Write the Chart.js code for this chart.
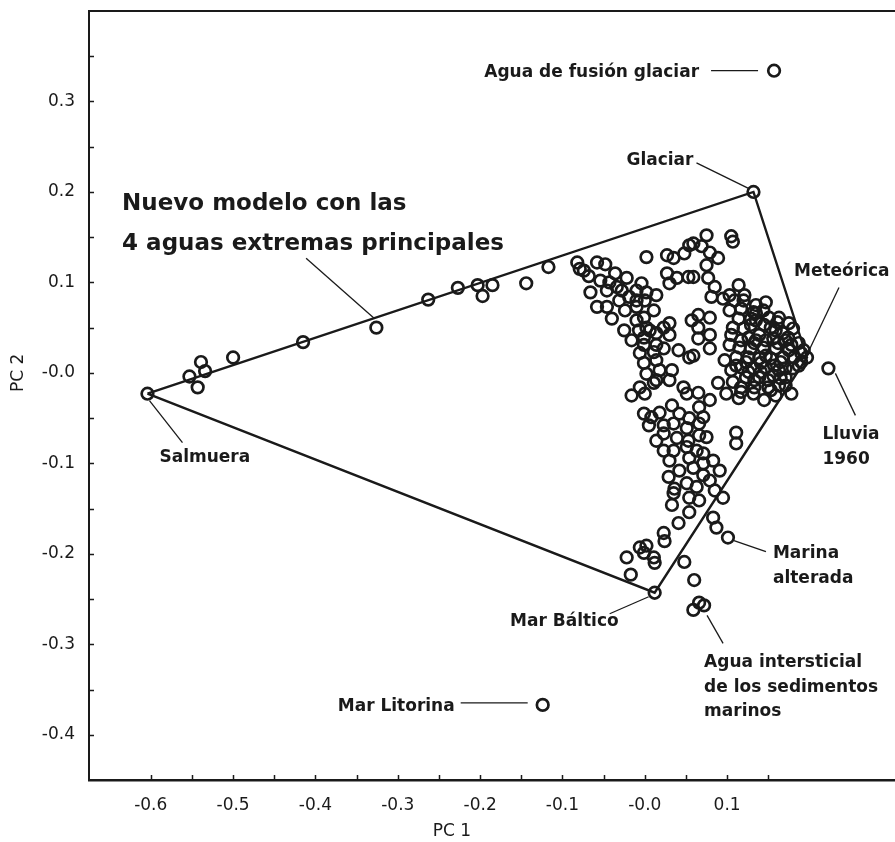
<!DOCTYPE html>
<html lang="es">
<head>
<meta charset="utf-8">
<title>PC 1 / PC 2 – modelo de mezcla</title>
<script src="https://cdn.jsdelivr.net/npm/chart.js@4.4.1/dist/chart.umd.min.js"></script>
<style>
  html, body { margin: 0; padding: 0; background: #ffffff; overflow: hidden; }
  #wrap { position: relative; width: 925px; height: 842px; }
  canvas { display: block; }
</style>
</head>
<body>
<div id="wrap"><canvas id="pca" width="925" height="842"></canvas></div>
<script>
// ---------------- data ----------------
const pc1TickValues = [-0.6, -0.5, -0.4, -0.3, -0.2, -0.1, 0, 0.1];
const pc1TickLabels = ['-0.6', '-0.5', '-0.4', '-0.3', '-0.2', '-0.1', '-0.0', '0.1'];
const pc2TickValues = [-0.4, -0.3, -0.2, -0.1, 0, 0.1, 0.2, 0.3];
const pc2TickLabels = ['-0.4', '-0.3', '-0.2', '-0.1', '-0.0', '0.1', '0.2', '0.3'];

// the four end-member waters of the mixing model
const endMemberNames = ['Salmuera', 'Glaciar', 'Meteórica', 'Mar Báltico'];
const endMemberPC1 = [-0.604, 0.132, 0.197, 0.012];
const endMemberPC2 = [-0.023, 0.200, 0.017, -0.243];

// outline of the model: Salmuera -> Glaciar -> Meteórica -> Mar Báltico -> Salmuera
const modelOutline = ['Salmuera', 'Glaciar', 'Meteórica', 'Mar Báltico', 'Salmuera'];

// reference waters outside the model
const referenceNames = ['Agua de fusión glaciar', 'Lluvia 1960', 'Mar Litorina'];
const referencePC1 = [0.157, 0.223, -0.124];
const referencePC2 = [0.334, 0.005, -0.367];

// groundwater samples [PC 1, PC 2]
const sampleScores = [
  // along the brine - glacial edge
  [-0.553,-0.004],[-0.539,0.012],[-0.534,0.002],[-0.543,-0.016],[-0.500,0.017],[-0.415,0.034],
  [-0.326,0.050],[-0.263,0.081],[-0.227,0.094],[-0.203,0.097],[-0.197,0.085],[-0.185,0.097],
  [-0.144,0.099],[-0.117,0.117],
  // upper left arm of the cloud
  [-0.082,0.122],[-0.058,0.122],[-0.048,0.120],[-0.074,0.113],[-0.068,0.107],[-0.054,0.102],
  [-0.036,0.110],[-0.022,0.105],[0.002,0.128],[0.027,0.130],[0.035,0.127],[0.048,0.132],
  [0.054,0.141],[0.027,0.110],[0.039,0.105],[0.053,0.106],[-0.066,0.089],[-0.046,0.091],
  [-0.028,0.091],[-0.058,0.073],[-0.046,0.073],[-0.031,0.080],[-0.019,0.084],[-0.010,0.091],
  [0.002,0.089],[0.014,0.086],[0.030,0.099],[-0.024,0.069],[-0.010,0.073],[0.000,0.080],
  [-0.001,0.061],[0.011,0.069],[-0.025,0.047],[-0.010,0.058],[-0.007,0.047],[0.006,0.047],
  [-0.001,0.039],[0.014,0.044],[0.030,0.055],[0.030,0.042],[0.057,0.058],[0.041,0.025],
  [0.054,0.017],[-0.006,0.022],[0.011,0.023],[0.023,0.027],[-0.001,0.011],[0.014,0.014],
  [0.002,-0.001],[0.018,0.003],[0.033,0.003],[0.030,-0.008],[0.014,-0.008],[-0.006,-0.016],
  [0.047,-0.016],[-0.079,0.115],[-0.043,0.100],[-0.034,0.095],[-0.010,0.080],[0.002,0.050],
  [0.023,0.050],[-0.001,0.031],[0.014,0.031],[-0.040,0.060],[-0.016,0.036],[-0.004,0.099],
  // central column and the dense meteoric core
  [0.075,0.152],[0.105,0.151],[0.107,0.145],[0.059,0.143],[0.069,0.140],[0.079,0.133],
  [0.089,0.127],[0.075,0.119],[0.059,0.106],[0.077,0.105],[0.114,0.097],[0.085,0.095],
  [0.081,0.084],[0.095,0.082],[0.109,0.080],[0.147,0.078],[0.103,0.069],[0.117,0.071],
  [0.132,0.067],[0.144,0.069],[0.163,0.061],[0.065,0.064],[0.079,0.061],[0.065,0.050],
  [0.079,0.042],[0.065,0.038],[0.079,0.027],[0.059,0.019],[0.107,0.050],[0.120,0.049],
  [0.135,0.058],[0.153,0.050],[0.168,0.044],[0.180,0.049],[0.126,0.039],[0.139,0.042],
  [0.156,0.038],[0.171,0.036],[0.187,0.033],[0.115,0.028],[0.129,0.027],[0.144,0.028],
  [0.159,0.027],[0.175,0.025],[0.190,0.022],[0.111,0.017],[0.126,0.017],[0.139,0.016],
  [0.153,0.016],[0.168,0.017],[0.181,0.017],[0.117,0.006],[0.132,0.005],[0.147,0.006],
  [0.163,0.003],[0.180,0.005],[0.123,-0.005],[0.139,-0.005],[0.156,-0.003],[0.171,-0.005],
  [0.089,-0.011],[0.107,-0.010],[0.133,-0.016],[0.150,-0.016],[0.163,-0.014],[0.099,-0.023],
  [0.114,-0.028],[0.132,-0.023],[0.145,-0.030],[0.159,-0.025],[0.178,-0.023],[0.051,-0.023],
  [0.103,0.086],[0.120,0.080],[0.135,0.066],[0.151,0.061],[0.175,0.055],[0.103,0.031],
  [0.097,0.014],[0.105,0.003],[0.135,0.036],[0.147,0.019],[0.165,0.012],[0.123,0.012],
  [0.190,0.012],[0.141,0.001],[0.171,-0.014],[0.117,-0.016],[0.193,0.025],[0.159,0.047],
  [0.129,0.053],
  [0.105,0.042],[0.117,0.036],[0.133,0.033],[0.147,0.036],[0.162,0.033],[0.178,0.031],
  [0.111,0.008],[0.126,0.001],[0.141,0.011],[0.157,0.008],[0.171,0.005],[0.187,0.008],
  [0.133,-0.008],[0.150,-0.008],[0.165,-0.006],[0.117,-0.021],[0.153,-0.019],[0.114,0.060],
  [0.129,0.060],[0.145,0.053],[0.161,0.056],[0.174,0.039],[0.121,0.086],[0.135,0.075],
  // lower stem towards the Baltic
  [-0.016,-0.025],[0.000,-0.023],[0.011,-0.011],[-0.001,-0.045],[0.008,-0.049],[0.018,-0.044],
  [0.033,-0.036],[0.042,-0.045],[0.054,-0.050],[0.066,-0.038],[0.005,-0.058],[0.023,-0.058],
  [0.035,-0.056],[0.051,-0.061],[0.066,-0.056],[0.023,-0.067],[0.039,-0.072],[0.053,-0.075],
  [0.066,-0.069],[0.023,-0.086],[0.035,-0.086],[0.051,-0.082],[0.063,-0.086],[0.030,-0.097],
  [0.054,-0.094],[0.071,-0.100],[0.029,-0.115],[0.042,-0.108],[0.059,-0.105],[0.071,-0.113],
  [0.051,-0.122],[0.063,-0.126],[0.079,-0.119],[0.035,-0.133],[0.033,-0.146],[0.054,-0.154],
  [0.041,-0.166],[0.065,-0.022],[0.014,-0.075],
  [-0.022,-0.204],[-0.017,-0.223],[-0.006,-0.193],[0.002,-0.191],[-0.001,-0.199],[0.011,-0.204],
  [0.012,-0.210],[0.023,-0.177],[0.024,-0.186],
  // outside the Baltic - meteoric edge
  [0.048,-0.209],[0.060,-0.229],[0.059,-0.262],[0.072,-0.257],[0.066,-0.254],
  [0.111,-0.066],[0.111,-0.078],[0.075,-0.071],[0.083,-0.097],[0.091,-0.108],[0.085,-0.130],
  [0.095,-0.138],[0.066,-0.141],[0.087,-0.171],[0.101,-0.182],[0.083,-0.160],[0.071,-0.089],
  [0.054,-0.138],[0.036,-0.128],[0.079,-0.030],[0.071,-0.049]
];

// ---------------- helpers ----------------
const INK = '#1a1a1a';

function endMember(name) {
  const i = endMemberNames.indexOf(name);
  return { x: endMemberPC1[i], y: endMemberPC2[i] };
}
function referenceWater(name) {
  const i = referenceNames.indexOf(name);
  return { x: referencePC1[i], y: referencePC2[i] };
}
function pointOnEdge(from, to, t) {
  const a = endMember(from), b = endMember(to);
  return { x: a.x + (b.x - a.x) * t, y: a.y + (b.y - a.y) * t };
}

// callouts: anchored on a data point, text and leader offsets in pixels
const callouts = [
  { anchor: () => referenceWater('Agua de fusión glaciar'), lines: ['Agua de fusión glaciar'],
    align: 'right', text: [-75, 6], leader: [[-16, 0], [-63, 0]] },
  { anchor: () => endMember('Glaciar'), lines: ['Glaciar'],
    align: 'right', text: [-60, -27], leader: [[-4, -3], [-57, -29]] },
  { anchor: () => endMember('Meteórica'), lines: ['Meteórica'],
    align: 'left', text: [-13, -82], leader: [[2, -7], [32, -70]] },
  { anchor: () => referenceWater('Lluvia 1960'), lines: ['Lluvia', '1960'],
    align: 'left', text: [-6, 71], gap: 25, leader: [[7, 5], [27, 47]] },
  { anchor: () => endMember('Salmuera'), lines: ['Salmuera'],
    align: 'left', text: [12, 68], leader: [[2, 7], [35, 49]] },
  { anchor: () => endMember('Mar Báltico'), lines: ['Mar Báltico'],
    align: 'right', text: [-36, 33], leader: [[-6, 4], [-45, 21]] },
  { anchor: () => ({ x: 0.101, y: -0.182 }), lines: ['Marina', 'alterada'],
    align: 'left', text: [45, 20], gap: 25, leader: [[6, 3], [38, 14]] },
  { anchor: () => ({ x: 0.072, y: -0.257 }), lines: ['Agua intersticial', 'de los sedimentos', 'marinos'],
    align: 'left', text: [0, 62], gap: 24.5, leader: [[3, 10], [19, 38]] },
  { anchor: () => referenceWater('Mar Litorina'), lines: ['Mar Litorina'],
    align: 'right', text: [-88, 6], leader: [[-15, -2], [-82, -2]] },
  { anchor: () => pointOnEdge('Salmuera', 'Glaciar', 0.374), lines: ['Nuevo modelo con las', '4 aguas extremas principales'],
    align: 'left', text: [-252, -108], gap: 40, size: 23, leader: [[0, 0], [-68, -60]] }
];

// frame, inward tick marks, axis titles and callouts
const decorations = {
  id: 'decorations',
  afterDraw(chart) {
    const { ctx, chartArea: a, scales: { x, y } } = chart;
    ctx.save();
    ctx.strokeStyle = INK;
    ctx.fillStyle = INK;
    ctx.lineCap = 'butt';

    // top of the frame
    ctx.lineWidth = 2;
    ctx.beginPath();
    ctx.moveTo(a.left, a.top);
    ctx.lineTo(a.right, a.top);
    ctx.stroke();

    // inward ticks every 0.05
    ctx.lineWidth = 1.5;
    ctx.beginPath();
    for (let k = -12; k <= 3; k++) {
      const px = Math.round(x.getPixelForValue(k * 0.05)) + 0.5;
      ctx.moveTo(px, a.bottom);
      ctx.lineTo(px, a.bottom - 5);
    }
    for (let k = -8; k <= 7; k++) {
      const py = Math.round(y.getPixelForValue(k * 0.05)) + 0.5;
      ctx.moveTo(a.left, py);
      ctx.lineTo(a.left + 5, py);
    }
    ctx.stroke();

    // axis titles
    ctx.font = '17px "DejaVu Sans"';
    ctx.textAlign = 'center';
    ctx.textBaseline = 'middle';
    ctx.fillText('PC 1', 452, 832);
    ctx.save();
    ctx.translate(19, y.getPixelForValue(0));
    ctx.rotate(-Math.PI / 2);
    ctx.fillText('PC 2', 0, 0);
    ctx.restore();

    // callouts
    ctx.lineWidth = 1.3;
    ctx.textBaseline = 'alphabetic';
    callouts.forEach(c => {
      const p = c.anchor();
      const ax = x.getPixelForValue(p.x);
      const ay = y.getPixelForValue(p.y);
      ctx.beginPath();
      ctx.moveTo(ax + c.leader[0][0], ay + c.leader[0][1]);
      ctx.lineTo(ax + c.leader[1][0], ay + c.leader[1][1]);
      ctx.stroke();
      ctx.font = 'bold ' + (c.size || 17) + 'px "DejaVu Sans"';
      ctx.textAlign = c.align;
      c.lines.forEach((line, i) => {
        ctx.fillText(line, ax + c.text[0], ay + c.text[1] + i * (c.gap || 0));
      });
    });
    ctx.restore();
  }
};

// ---------------- chart ----------------
const circleStyle = {
  pointStyle: 'circle',
  pointRadius: 5.8,
  pointBorderWidth: 2.7,
  pointBorderColor: INK,
  pointBackgroundColor: 'rgba(0,0,0,0)',
  showLine: false
};

new Chart(document.getElementById('pca'), {
  type: 'scatter',
  data: {
    datasets: [
      {
        label: 'Modelo',
        type: 'line',
        data: modelOutline.map(endMember),
        borderColor: INK,
        borderWidth: 2.4,
        pointRadius: 0,
        fill: false,
        tension: 0,
        order: 3
      },
      Object.assign({ label: 'Aguas extremas', data: endMemberNames.map(endMember), order: 2 }, circleStyle),
      Object.assign({ label: 'Referencias', data: referenceNames.map(referenceWater), order: 2 }, circleStyle),
      Object.assign({ label: 'Muestras', data: sampleScores.map(s => ({ x: s[0], y: s[1] })), order: 1 }, circleStyle)
    ]
  },
  options: {
    responsive: false,
    animation: false,
    devicePixelRatio: 1,
    events: [],
    layout: { padding: { top: 11, right: 4, bottom: 0, left: 0 } },
    plugins: { legend: { display: false }, tooltip: { enabled: false } },
    scales: {
      x: {
        type: 'linear',
        min: -0.675,
        max: 0.33,
        grid: { display: false, drawTicks: false },
        border: { display: true, color: INK, width: 2.4 },
        afterBuildTicks: axis => { axis.ticks = pc1TickValues.map(v => ({ value: v })); },
        afterFit: scale => { scale.height = 62; scale.paddingLeft = 0; scale.paddingRight = 0; },
        ticks: {
          padding: 15,
          color: INK,
          font: { family: '"DejaVu Sans"', size: 17 },
          maxRotation: 0,
          autoSkip: false,
          callback: (value, index) => pc1TickLabels[index]
        }
      },
      y: {
        type: 'linear',
        min: -0.45,
        max: 0.4,
        grid: { display: false, drawTicks: false },
        border: { display: true, color: INK, width: 2 },
        afterBuildTicks: axis => { axis.ticks = pc2TickValues.map(v => ({ value: v })); },
        afterFit: scale => { scale.width = 89; scale.paddingTop = 0; scale.paddingBottom = 0; },
        ticks: {
          padding: 14,
          color: INK,
          font: { family: '"DejaVu Sans"', size: 17 },
          autoSkip: false,
          callback: (value, index) => pc2TickLabels[index]
        }
      }
    }
  },
  plugins: [decorations]
});
</script>
</body>
</html>
